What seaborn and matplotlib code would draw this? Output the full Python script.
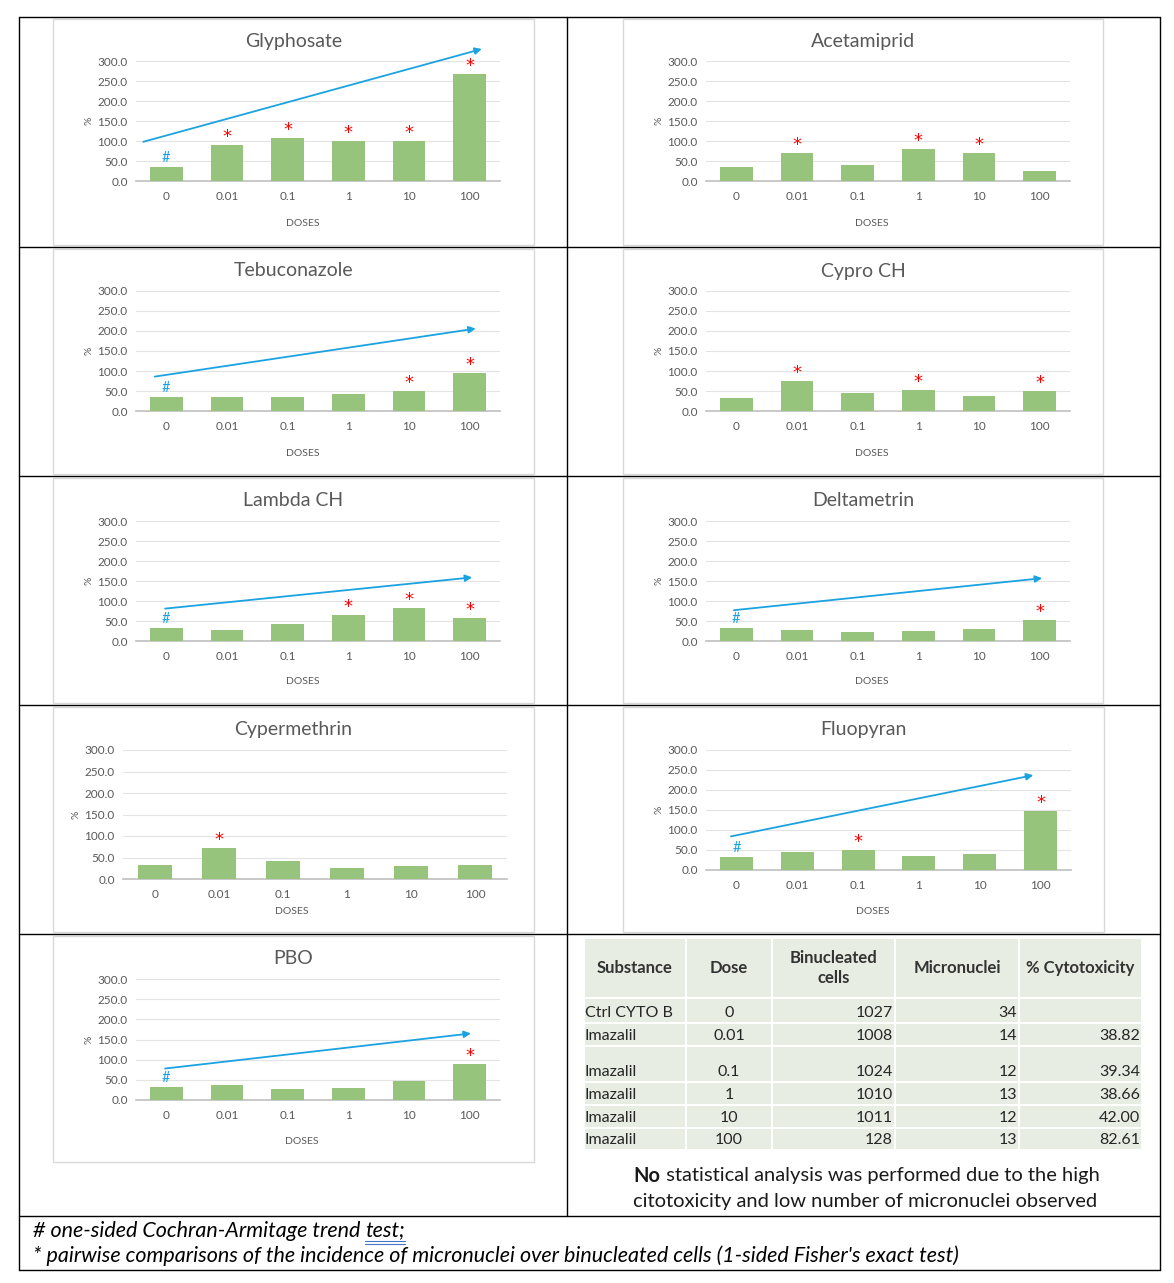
import numpy as np
import pandas as pd
import matplotlib
matplotlib.use('Agg')
import matplotlib.pyplot as plt
from matplotlib.patches import Rectangle
import seaborn as sns

# ---- data ----
doses = ['0', '0.01', '0.1', '1', '10', '100']

glyphosate = [34, 90, 108, 99, 99, 268]
acetamiprid = [34, 70, 41, 80, 70, 26]
tebuconazole = [34, 34, 34, 43, 50, 96]
cypro_ch = [32, 75, 46, 52, 37, 49]
lambda_ch = [33, 28, 42, 64, 82, 58]
deltametrin = [33, 27.5, 22.5, 24, 30, 52]
cypermethrin = [32, 71, 41, 26, 31, 32]
fluopyran = [33, 44, 50, 35, 40, 147]
pbo = [33, 36, 28, 30, 46, 89]

# dose indices flagged with * (Fisher) ; trend arrows (#) as (start, end) in (dose index, %)
glyphosate_stars = [1, 2, 3, 4, 5]
acetamiprid_stars = [1, 3, 4]
tebuconazole_stars = [4, 5]
cypro_ch_stars = [1, 3, 5]
lambda_ch_stars = [3, 4, 5]
deltametrin_stars = [5]
cypermethrin_stars = [1]
fluopyran_stars = [2, 5]
pbo_stars = [5]

glyphosate_trend = [(-0.38, 98), (5.2, 330)]
tebuconazole_trend = [(-0.19, 86), (5.1, 206)]
lambda_ch_trend = [(-0.02, 81), (5.04, 159)]
deltametrin_trend = [(-0.04, 77), (5.04, 157)]
fluopyran_trend = [(-0.09, 84), (4.88, 237)]
pbo_trend = [(-0.02, 78), (5.02, 165)]

# imazalil table
tab_header = ['Substance', 'Dose', 'Binucleated\ncells', 'Micronuclei', '% Cytotoxicity']
tab_substance = ['Ctrl CYTO B', 'Imazalil', 'Imazalil', 'Imazalil', 'Imazalil', 'Imazalil']
tab_dose = ['0', '0.01', '0.1', '1', '10', '100']
tab_binucleated = [1027, 1008, 1024, 1010, 1011, 128]
tab_micronuclei = [34, 14, 12, 13, 12, 13]
tab_cytotox = [None, 38.82, 39.34, 38.66, 42.00, 82.61]

# ---- style ----
sns.set_style('white')
plt.rcParams['font.family'] = ['Lato', 'DejaVu Sans']

W, H = 1174, 1283
GREEN = '#97C47C'
BLUE = '#1AA3E0'
RED = '#FF0000'
GREY = '#595959'

fig = plt.figure(figsize=(W / 100, H / 100), dpi=100)
bg = fig.add_axes([0, 0, 1, 1])
bg.set_xlim(0, W)
bg.set_ylim(H, 0)
bg.axis('off')

# outer table grid
for y in [17, 247, 476, 705, 934, 1216, 1270]:
    bg.plot([19, 1160], [y, y], color='black', lw=1)
for x in [19, 1160]:
    bg.plot([x, x], [17, 1270], color='black', lw=1)
bg.plot([567, 567], [17, 1216], color='black', lw=1)

# (title, values, stars, trend, chart box l,t,r,b, axes l,t,r,b, DOSES label centre x,y)
panels = [
    ('Glyphosate', glyphosate, glyphosate_stars, glyphosate_trend, (53, 19, 534, 245), (136, 61, 500, 181), (303, 224)),
    ('Acetamiprid', acetamiprid, acetamiprid_stars, None, (623, 19, 1103, 245), (706, 61, 1070, 181), (872, 224)),
    ('Tebuconazole', tebuconazole, tebuconazole_stars, tebuconazole_trend, (53, 249, 534, 474), (136, 291, 500, 411), (303, 453)),
    ('Cypro CH', cypro_ch, cypro_ch_stars, None, (623, 249, 1103, 474), (706, 291, 1070, 411), (872, 453)),
    ('Lambda CH', lambda_ch, lambda_ch_stars, lambda_ch_trend, (53, 478, 534, 703), (136, 521, 500, 641), (303, 682)),
    ('Deltametrin', deltametrin, deltametrin_stars, deltametrin_trend, (623, 478, 1103, 703), (706, 521, 1070, 641), (872, 682)),
    ('Cypermethrin', cypermethrin, cypermethrin_stars, None, (53, 707, 534, 932), (123, 750, 507, 879), (292, 911)),
    ('Fluopyran', fluopyran, fluopyran_stars, fluopyran_trend, (623, 707, 1104, 932), (706, 750, 1071, 870), (873, 911)),
    ('PBO', pbo, pbo_stars, pbo_trend, (53, 936, 534, 1162), (136, 979, 500, 1100), (302, 1141)),
]

for title, vals, stars, trend, box, axp, dlab in panels:
    bl, bt, br, bb = box
    bg.add_patch(Rectangle((bl, bt), br - bl, bb - bt, fill=False, edgecolor='#D9D9D9', lw=1))
    bg.text((bl + br) / 2, bt + 22, title, ha='center', va='center', fontsize=14,
            color=GREY)

    l, t, r, b = axp
    ax = fig.add_axes([l / W, 1 - b / H, (r - l) / W, (b - t) / H])
    ax.set_facecolor('none')
    df = pd.DataFrame({'dose': doses, 'pct': vals})
    sns.barplot(data=df, x='dose', y='pct', order=doses, color=GREEN, saturation=1,
                width=0.54, errorbar=None, linewidth=0, ax=ax, zorder=3)
    ax.set_xlim(-0.5, 5.5)
    ax.set_ylim(0, 300)
    ax.set_yticks(np.arange(0, 301, 50))
    ax.set_yticklabels([f'{v:.1f}' for v in np.arange(0, 301, 50)])
    ax.grid(axis='y', color='#E3E3E3', lw=0.8, zorder=0)
    ax.set_axisbelow(True)
    for s in ['top', 'right', 'left']:
        ax.spines[s].set_visible(False)
    ax.spines['bottom'].set_color('#BFBFBF')
    ax.spines['bottom'].set_linewidth(1.2)
    ax.tick_params(length=0, labelsize=8.5, labelcolor=GREY)
    ax.tick_params(axis='x', pad=7)
    ax.tick_params(axis='y', pad=6)
    ax.set_xlabel('DOSES', fontsize=7.5, color=GREY)
    ax.xaxis.label.set_va('center')
    ax.xaxis.set_label_coords((dlab[0] - l) / (r - l), (b - dlab[1]) / (b - t))
    ax.set_ylabel('%', fontsize=7.5, color=GREY, labelpad=3)

    for i in stars:
        ax.annotate('*', xy=(i, vals[i]), xytext=(0, 3), textcoords='offset pixels',
                    ha='center', va='baseline', color=RED, fontsize=13,
                    family='DejaVu Sans', annotation_clip=False)
    if trend is not None:
        ax.annotate('#', xy=(0, vals[0]), xytext=(0, 5), textcoords='offset pixels',
                    ha='center', va='baseline', color=BLUE, fontsize=10.5,
                    annotation_clip=False)
        (x0, y0), (x1, y1) = trend
        ax.annotate('', xy=(x1, y1), xytext=(x0, y0),
                    arrowprops=dict(arrowstyle='-|>', color=BLUE, lw=1.3,
                                    mutation_scale=10, shrinkA=0, shrinkB=0),
                    annotation_clip=False)

# ---- imazalil table ----
col_x = [584, 686, 772, 895, 1019, 1142]
row_y = [938, 998, 1023, 1046, 1082, 1105, 1128, 1150]
CELL = '#E8EDE4'
for ci in range(5):
    for ri in range(len(row_y) - 1):
        bg.add_patch(Rectangle((col_x[ci] + 1, row_y[ri] + 1),
                               col_x[ci + 1] - col_x[ci] - 2, row_y[ri + 1] - row_y[ri] - 2,
                               facecolor=CELL, edgecolor='none'))

for ci, h in enumerate(tab_header):
    bg.text((col_x[ci] + col_x[ci + 1]) / 2, (row_y[0] + row_y[1]) / 2, h,
            ha='center', va='center', fontsize=12, fontweight='bold', color='#333333',
            linespacing=1.25)

for ri in range(len(tab_substance)):
    y = row_y[ri + 2] - 10
    bg.text(col_x[0] + 1, y, tab_substance[ri], ha='left', va='center', fontsize=11.5, color='#262626')
    bg.text((col_x[1] + col_x[2]) / 2, y, tab_dose[ri], ha='center', va='center', fontsize=11.5, color='#262626')
    bg.text(col_x[3] - 2, y, str(tab_binucleated[ri]), ha='right', va='center', fontsize=11.5, color='#262626')
    bg.text(col_x[4] - 2, y, str(tab_micronuclei[ri]), ha='right', va='center', fontsize=11.5, color='#262626')
    if tab_cytotox[ri] is not None:
        bg.text(col_x[5] - 2, y, f'{tab_cytotox[ri]:.2f}', ha='right', va='center', fontsize=11.5, color='#262626')

t = bg.text(880, 1176, ' statistical analysis was performed due to the high', ha='center', va='center',
            fontsize=14.5, color='#1a1a1a')
bg.annotate('No', xy=(0, 0.5), xycoords=t, ha='right', va='center', fontsize=14.5,
            fontweight='bold', color='#1a1a1a')
bg.text(865, 1201, 'citotoxicity and low number of micronuclei observed', ha='center', va='center',
        fontsize=14.5, color='#1a1a1a')

# footnotes
f1 = bg.text(33, 1231, '# one-sided Cochran-Armitage trend ', ha='left', va='center',
             fontsize=15.5, style='italic', color='black')
f2 = bg.annotate('test;', xy=(1, 0.5), xycoords=f1, ha='left', va='center',
                 fontsize=15.5, style='italic', color='black')
bg.text(33, 1256, "* pairwise comparisons of the incidence of micronuclei over binucleated cells (1-sided Fisher's exact test)",
        ha='left', va='center', fontsize=15.5, style='italic', color='black')

# spell-check style double underline under "test;"
fig.canvas.draw()
bb = f2.get_window_extent().transformed(bg.transData.inverted())
x_a, x_b = min(bb.x0, bb.x1), max(bb.x0, bb.x1)
for yy in [1241, 1244]:
    bg.plot([x_a, x_b], [yy, yy], color='#4472C4', lw=0.8)

fig.savefig('out.png', dpi=100)
